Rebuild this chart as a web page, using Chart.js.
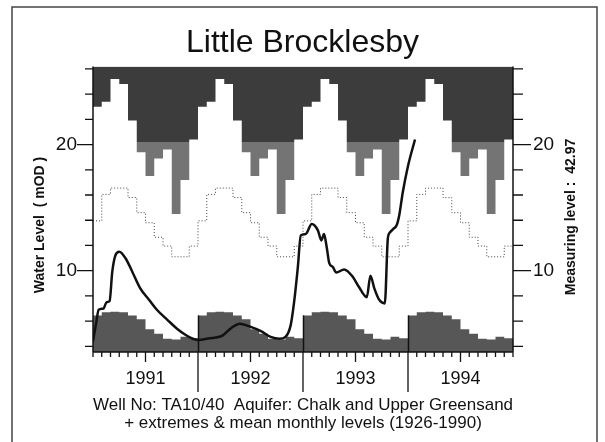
<!DOCTYPE html>
<html>
<head>
<meta charset="utf-8">
<title>Little Brocklesby</title>
<script src="https://cdn.jsdelivr.net/npm/chart.js@4.4.1/dist/chart.umd.min.js"></script>
<style>
  html, body { margin: 0; padding: 0; background: #fff; }
  #wrap { width: 605px; height: 442px; }
</style>
</head>
<body>
<div id="wrap"><canvas id="hydrograph" width="605" height="442"></canvas></div>
<script>
// Monthly extremes and means 1926-1990, Jan..Dec (mOD)
const monthlyMax = [23.0, 23.4, 25.2, 24.8, 21.9, 19.4, 17.5, 18.9, 19.6, 14.5, 17.2, 20.4];
const monthlyMean = [13.95, 16.05, 16.55, 16.55, 15.8, 14.6, 13.8, 12.65, 11.95, 11.1, 11.1, 11.95];
const monthlyMin = [6.45, 6.7, 6.75, 6.7, 6.45, 6.15, 5.35, 5.0, 4.6, 4.55, 4.75, 4.65];

// Observed water level (x = months since 1 Jan 1991)
const levelMonths = [0, 0.35, 0.65, 1.2, 1.55, 1.9, 2.2, 2.55, 3.0, 3.7,
  4.5, 5.4, 6.4, 7.3, 8.5, 9.6, 10.6, 11.4, 12.1, 13.0,
  14.0, 14.8, 15.7, 16.8, 17.8, 19.2, 20.3, 21.3, 22.0, 22.6,
  23.0, 23.4, 23.75, 24.3, 25.0, 25.7, 26.1, 26.4, 26.7, 27.0,
  27.4, 27.8, 28.7, 29.7, 30.4, 31.3, 31.7, 32.15, 32.7, 33.35,
  33.7, 33.9, 34.3, 34.7, 35.0, 35.4, 36.0, 36.8];
const levelValues = [4.4, 5.8, 6.9, 7.0, 7.5, 7.6, 9.9, 11.2, 11.5, 11.0,
  9.9, 8.6, 7.7, 6.9, 6.1, 5.4, 4.9, 4.6, 4.5, 4.6,
  4.7, 4.85, 5.4, 5.8, 5.6, 5.2, 4.75, 4.6, 4.75, 5.7,
  7.6, 10.2, 12.8, 12.9, 13.7, 13.2, 12.4, 12.9, 11.9, 10.6,
  10.3, 9.85, 10.1, 9.5, 8.7, 7.9, 9.6, 8.6, 7.7, 7.4,
  12.6, 13.0, 13.3, 13.6, 14.4, 16.2, 18.3, 20.4];

const yearLabels = ['1991', '1992', '1993', '1994'];
const yTickValues = [4, 6, 8, 10, 12, 14, 16, 18, 20, 22, 24, 26];
const yLabelValues = [10, 20];

const titleText = 'Little Brocklesby';
const footLines = ['Well No: TA10/40  Aquifer: Chalk and Upper Greensand',
  '+ extremes & mean monthly levels (1926-1990)'];
const leftAxisText = 'Water Level  ( mOD )';
const rightAxisText = 'Measuring level :  42.97';

const nMonths = yearLabels.length * 12;
const ink = '#111';
const topDark = '#3c3c3c';
const topLight = '#747474';
const lowFill = '#575757';
const legBreak = 20.2;

// repeat a Jan..Dec list over every year of the plot, one step per month
function repeatMonthly(values) {
  const pts = [];
  for (let i = 0; i <= nMonths; i++) {
    pts.push({ x: i, y: values[Math.min(i, nMonths - 1) % 12] });
  }
  return pts;
}

function maxFill(context) {
  const chart = context.chart;
  const area = chart.chartArea;
  if (!area) return topDark;
  const t = (chart.scales.y.getPixelForValue(legBreak) - area.top) / (area.bottom - area.top);
  const g = chart.ctx.createLinearGradient(0, area.top, 0, area.bottom);
  g.addColorStop(0, topDark);
  g.addColorStop(t, topDark);
  g.addColorStop(t, topLight);
  g.addColorStop(1, topLight);
  return g;
}

// tick marks, axis lines, year separators, side labels and the frame
const hydroMarks = {
  id: 'hydroMarks',
  afterDatasetDraw(chart, args) {
    if (args.index !== 3) return;
    const { ctx, chartArea: a, scales: { x, y } } = chart;
    ctx.save();
    ctx.strokeStyle = ink;
    ctx.lineWidth = 1.5;
    for (let k = 1; k < yearLabels.length; k++) {
      const px = Math.round(x.getPixelForValue(k * 12)) + 0.5;
      ctx.beginPath();
      ctx.moveTo(px, a.bottom);
      ctx.lineTo(px, y.getPixelForValue(monthlyMin[0]));
      ctx.stroke();
    }
    ctx.restore();
  },
  afterDraw(chart) {
    const { ctx, chartArea: a, scales: { x, y, y2 } } = chart;
    ctx.save();
    ctx.strokeStyle = ink;
    ctx.lineWidth = 1.5;
    ctx.beginPath();
    ctx.moveTo(a.left, a.top); ctx.lineTo(a.left, a.bottom);
    ctx.moveTo(a.right, a.top); ctx.lineTo(a.right, a.bottom);
    ctx.moveTo(a.left, a.bottom); ctx.lineTo(a.right, a.bottom);
    ctx.stroke();

    ctx.lineWidth = 1.3;
    ctx.beginPath();
    for (let i = 0; i <= nMonths; i++) {
      const px = x.getPixelForValue(i);
      let len = 5;
      if (i % 12 === 6) len = 10;
      if (i % 12 === 0 && i > 0 && i < nMonths) len = 40;
      ctx.moveTo(px, a.bottom);
      ctx.lineTo(px, a.bottom + len);
    }
    yTickValues.forEach(v => {
      const major = yLabelValues.includes(v);
      const pl = y.getPixelForValue(v);
      ctx.moveTo(a.left, pl);
      ctx.lineTo(a.left - (major ? 16 : 8), pl);
      const pr = y2.getPixelForValue(v);
      ctx.moveTo(a.right, pr);
      ctx.lineTo(a.right + (major ? 18 : 10), pr);
    });
    ctx.stroke();

    ctx.fillStyle = ink;
    ctx.font = 'bold 14px "Liberation Sans", Arial, sans-serif';
    ctx.textAlign = 'center';
    ctx.textBaseline = 'middle';
    [[leftAxisText, 40, 225], [rightAxisText, 571, 217]].forEach(([txt, cx, cy]) => {
      ctx.save();
      ctx.translate(cx, cy);
      ctx.rotate(-Math.PI / 2);
      ctx.fillText(txt, 0, 0);
      ctx.restore();
    });

    ctx.strokeStyle = '#444';
    ctx.lineWidth = 1.5;
    ctx.beginPath();
    ctx.moveTo(12, 442); ctx.lineTo(12, 7); ctx.lineTo(597, 7); ctx.lineTo(597, 442);
    ctx.stroke();
    ctx.restore();
  }
};

Chart.defaults.font.family = '"Liberation Sans", Arial, sans-serif';
Chart.defaults.color = ink;

const ctx = document.getElementById('hydrograph').getContext('2d');
const hydrograph = new Chart(ctx, {
  type: 'line',
  data: {
    datasets: [
      {
        label: 'Water level',
        data: levelMonths.map((m, i) => ({ x: m, y: levelValues[i] })),
        borderColor: ink,
        borderWidth: 2.5,
        cubicInterpolationMode: 'monotone',
        pointRadius: 0,
        fill: false
      },
      {
        label: 'Mean monthly level',
        data: repeatMonthly(monthlyMean),
        stepped: 'before',
        borderColor: '#444',
        borderWidth: 1,
        borderDash: [1, 2],
        pointRadius: 0,
        fill: false
      },
      {
        label: 'Maximum monthly level',
        data: repeatMonthly(monthlyMax),
        stepped: 'before',
        borderWidth: 0,
        borderColor: 'rgba(0,0,0,0)',
        backgroundColor: maxFill,
        pointRadius: 0,
        fill: 'end'
      },
      {
        label: 'Minimum monthly level',
        data: repeatMonthly(monthlyMin),
        stepped: 'before',
        borderWidth: 0,
        borderColor: 'rgba(0,0,0,0)',
        backgroundColor: lowFill,
        pointRadius: 0,
        fill: 'start'
      }
    ]
  },
  options: {
    responsive: false,
    animation: false,
    layout: { padding: 0 },
    plugins: {
      legend: { display: false },
      tooltip: { enabled: false },
      title: {
        display: true,
        text: titleText,
        color: ink,
        font: { size: 32, weight: 'normal' },
        padding: { top: 24, bottom: 4 }
      }
    },
    scales: {
      x: {
        type: 'linear',
        min: 0,
        max: nMonths,
        afterBuildTicks: s => { s.ticks = yearLabels.map((_, k) => ({ value: k * 12 + 6 })); },
        afterFit: s => { s.height = 90; },
        grid: { display: false, drawTicks: true, tickLength: 6 },
        border: { display: false },
        ticks: {
          autoSkip: false,
          maxRotation: 0,
          padding: 10,
          font: { size: 18 },
          callback: (v, i) => yearLabels[i]
        },
        title: {
          display: true,
          text: footLines,
          font: { size: 17, lineHeight: 1.02 },
          padding: { top: 0, bottom: 10.3 }
        }
      },
      y: {
        position: 'left',
        min: 3.55,
        max: 26.2,
        afterBuildTicks: s => { s.ticks = yTickValues.map(v => ({ value: v })); },
        afterFit: s => { s.width = 93; },
        grid: { display: false, drawTicks: true, tickLength: 16 },
        border: { display: false },
        ticks: {
          padding: 0,
          font: { size: 19 },
          callback: v => (yLabelValues.includes(v) ? String(v) : '')
        }
      },
      y2: {
        position: 'right',
        min: 3.55,
        max: 26.2,
        afterBuildTicks: s => { s.ticks = yTickValues.map(v => ({ value: v })); },
        afterFit: s => { s.width = 92; },
        grid: { display: false, drawTicks: true, tickLength: 18 },
        border: { display: false },
        ticks: {
          padding: 2,
          font: { size: 19 },
          callback: v => (yLabelValues.includes(v) ? String(v) : '')
        }
      }
    }
  },
  plugins: [hydroMarks]
});
</script>
</body>
</html>
